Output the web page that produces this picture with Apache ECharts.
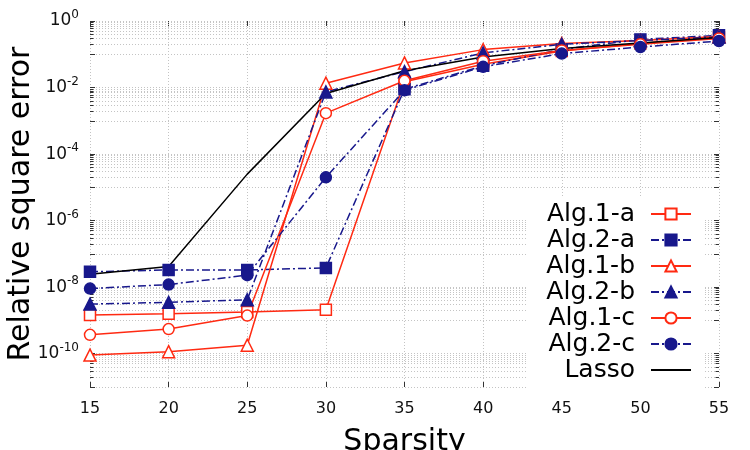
<!DOCTYPE html>
<html>
<head>
<meta charset="utf-8">
<script src="https://cdn.jsdelivr.net/npm/echarts@6/dist/echarts.min.js"></script>
<style>
  html, body { margin: 0; padding: 0; background: #ffffff; }
  #chart { width: 750px; height: 450px; }
</style>
</head>
<body>
<div id="chart"></div>
<script>
// ── Data ────────────────────────────────────────────────────────────────────
var sparsity = [15, 20, 25, 30, 35, 40, 45, 50, 55];

var alg1a = [1.45e-9, 1.6e-9, 1.8e-9, 2.1e-9, 1.5e-2, 5.0e-2, 1.25e-1, 2.1e-1, 3.2e-1];
var alg2a = [2.9e-8, 3.3e-8, 3.3e-8, 3.8e-8, 8.9e-3, 4.5e-2, 1.4e-1, 2.8e-1, 3.7e-1];
var alg1b = [9.1e-11, 1.15e-10, 1.8e-10, 1.35e-2, 5.5e-2, 1.38e-1, 2.1e-1, 2.6e-1, 3.4e-1];
var alg2b = [3.1e-9, 3.5e-9, 4.2e-9, 7.4e-3, 3.0e-2, 1.1e-1, 2.0e-1, 2.6e-1, 3.3e-1];
var alg1c = [3.7e-10, 5.5e-10, 1.4e-9, 1.7e-3, 1.6e-2, 6.2e-2, 1.3e-1, 2.0e-1, 3.0e-1];
var alg2c = [9.1e-9, 1.2e-8, 2.3e-8, 2.0e-5, 8.3e-3, 4.2e-2, 1.05e-1, 1.65e-1, 2.5e-1];
var lasso = [2.45e-8, 4.2e-8, 2.5e-5, 6.6e-3, 3.2e-2, 8.3e-2, 1.5e-1, 2.2e-1, 3.2e-1];

var seriesNames = ['Alg.1-a', 'Alg.2-a', 'Alg.1-b', 'Alg.2-b', 'Alg.1-c', 'Alg.2-c', 'Lasso'];

// ── Styling ────────────────────────────────────────────────────────────────
var FONT = 'DejaVu Sans';
var RED = '#ff2a12';
var BLUE = '#18188c';
var GRID_COLOR = '#c4c4c4';
var TICK_COLOR = '#333333';
var DASHDOT = [8, 3, 2, 3];

function pairs(ys) {
  return sparsity.map(function (x, i) { return [x, ys[i]]; });
}

function makeSeries(name, ys, color, dashed, symbol, filled) {
  return {
    name: name,
    type: 'line',
    data: pairs(ys),
    symbol: symbol,
    symbolSize: symbol === 'triangle' ? 12 : 11,
    lineStyle: { color: color, width: 1.5, type: dashed ? DASHDOT : 'solid' },
    itemStyle: {
      color: filled ? color : '#ffffff',
      borderColor: color,
      borderWidth: 1.5
    },
    emphasis: { disabled: true },
    animation: false
  };
}

// MATLAB-style minor grid: m x 10^odd between the labelled decades
function minorGrid() {
  var lines = [];
  var tick = { color: TICK_COLOR, type: 'solid', width: 1 };
  for (var e = -11; e <= -1; e += 2) {
    for (var m = 2; m <= 9; m++) {
      var v = m * Math.pow(10, e);
      lines.push([{ coord: [15, v] }, { coord: [55, v] }]);
      // short inward ticks on both sides
      lines.push([{ coord: [15, v], lineStyle: tick }, { coord: [15.22, v] }]);
      lines.push([{ coord: [54.78, v], lineStyle: tick }, { coord: [55, v] }]);
    }
  }
  return lines;
}

var chart = echarts.init(document.getElementById('chart'), null, { renderer: 'canvas' });

var yLabel = {
  fontFamily: FONT,
  color: '#111111',
  margin: 11,
  formatter: function (v) {
    var e = Math.round(Math.log10(v));
    if (e % 2 !== 0) return '';
    return '{b|10}{s|' + e + '}';
  },
  rich: {
    b: { fontFamily: FONT, fontSize: 17, color: '#111111', lineHeight: 24 },
    s: { fontFamily: FONT, fontSize: 12, color: '#111111', verticalAlign: 'top', lineHeight: 14 }
  }
};

var legendData = seriesNames.map(function (n) {
  if (n === 'Lasso') {
    return { name: n, itemStyle: { color: 'rgba(0,0,0,0)', borderColor: 'rgba(0,0,0,0)', borderWidth: 0 } };
  }
  return { name: n };
});

var option = {
  backgroundColor: '#ffffff',
  animation: false,
  grid: { left: 90, right: 31, top: 21, bottom: 63, outerBoundsMode: 'none' },
  legend: {
    data: legendData,
    orient: 'vertical',
    align: 'right',
    right: 45,
    top: 197,
    padding: [4, 13, 6, 20],
    backgroundColor: '#ffffff',
    itemWidth: 40,
    itemHeight: 14,
    itemGap: 0,
    textStyle: { fontFamily: FONT, fontSize: 25, lineHeight: 26, color: '#000000', padding: [0, 11, 0, 0] },
    selectedMode: false
  },
  xAxis: [{
    type: 'value',
    min: 15, max: 55, interval: 5,
    name: 'Sparsity',
    nameLocation: 'middle',
    nameGap: 40,
    nameTextStyle: { fontFamily: FONT, fontSize: 30, color: '#000000' },
    axisLine: { show: false },
    axisTick: { show: true, inside: true, length: 5, lineStyle: { color: TICK_COLOR } },
    axisLabel: { fontFamily: FONT, fontSize: 16, color: '#111111', margin: 14 },
    splitLine: { show: true, lineStyle: { color: GRID_COLOR, type: [1, 2], width: 1 } }
  }, {
    type: 'value',
    position: 'top',
    min: 15, max: 55, interval: 5,
    axisLine: { show: false },
    axisTick: { show: true, inside: true, length: 5, lineStyle: { color: TICK_COLOR } },
    axisLabel: { show: false },
    splitLine: { show: false }
  }],
  yAxis: [{
    type: 'log',
    logBase: 10,
    min: 1e-11, max: 1, interval: 1,
    name: 'Relative square error',
    nameLocation: 'middle',
    nameGap: 54,
    nameMoveOverlap: false,
    nameTextStyle: { fontFamily: FONT, fontSize: 30, color: '#000000' },
    axisLine: { show: false },
    axisTick: { show: true, inside: true, length: 5, lineStyle: { color: TICK_COLOR } },
    axisLabel: yLabel,
    splitLine: { show: true, lineStyle: { color: GRID_COLOR, type: [1, 2], width: 1 } }
  }, {
    type: 'log',
    logBase: 10,
    position: 'right',
    min: 1e-11, max: 1, interval: 1,
    axisLine: { show: false },
    axisTick: { show: true, inside: true, length: 5, lineStyle: { color: TICK_COLOR } },
    axisLabel: { show: false },
    splitLine: { show: false }
  }],
  series: [
    {
      name: 'minor-grid',
      type: 'line',
      data: [],
      silent: true,
      markLine: {
        silent: true,
        symbol: 'none',
        z: 1,
        label: { show: false },
        emphasis: { disabled: true },
        lineStyle: { color: GRID_COLOR, type: [1, 2], width: 1 },
        data: minorGrid(),
        animation: false
      }
    },
    makeSeries('Alg.1-a', alg1a, RED, false, 'rect', false),
    makeSeries('Alg.2-a', alg2a, BLUE, true, 'rect', true),
    makeSeries('Alg.1-b', alg1b, RED, false, 'triangle', false),
    makeSeries('Alg.2-b', alg2b, BLUE, true, 'triangle', true),
    makeSeries('Alg.1-c', alg1c, RED, false, 'circle', false),
    makeSeries('Alg.2-c', alg2c, BLUE, true, 'circle', true),
    {
      name: 'Lasso',
      type: 'line',
      data: pairs(lasso),
      symbol: 'none',
      lineStyle: { color: '#000000', width: 1.5 },
      itemStyle: { color: '#000000' },
      emphasis: { disabled: true },
      animation: false
    }
  ]
};

chart.setOption(option);
</script>
</body>
</html>
